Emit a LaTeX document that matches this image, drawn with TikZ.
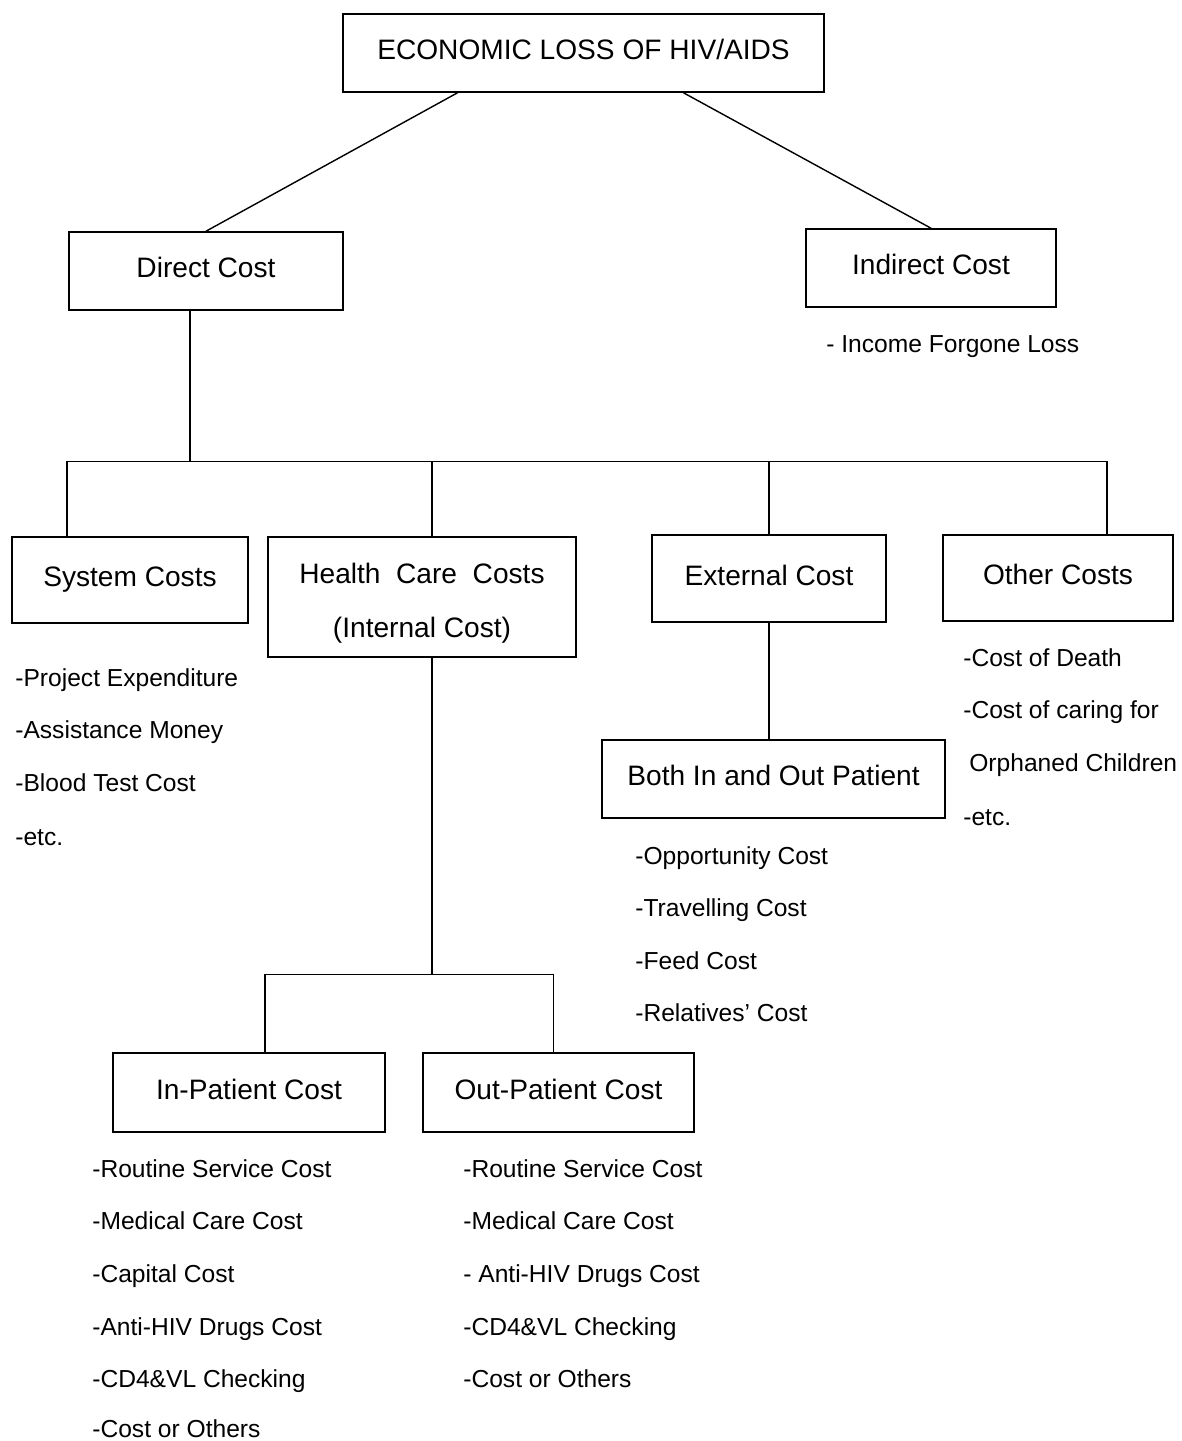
\documentclass[tikz,border=0pt]{standalone}
\usepackage{fontspec}
\setmainfont{Liberation Sans}
\usetikzlibrary{calc}
\tikzset{
  costbox/.style={draw, line width=0.9pt, rectangle, inner sep=0pt, text height=12pt, text depth=4.6pt, font=\fontsize{16pt}{19pt}\selectfont},
  itemtext/.style={anchor=base west, inner sep=0pt, font=\fontsize{14pt}{17pt}\selectfont},
  link/.style={line width=0.8pt},
}

\begin{document}
\begin{tikzpicture}[x=0.02cm, y=-0.02cm]%
\useasboundingbox (0,0) rectangle (1182,1441);%
% boxes
\node[costbox, minimum width=9.62cm, minimum height=1.56cm] (loss) at (583.5, 53) {ECONOMIC LOSS OF HIV/AIDS};%
\node[costbox, minimum width=5.48cm, minimum height=1.56cm] (direct) at (206, 271) {Direct Cost};%
\node[costbox, minimum width=5.0cm, minimum height=1.56cm] (indirect) at (931, 268) {Indirect Cost};%
\node[costbox, minimum width=4.72cm, minimum height=1.72cm] (system) at (130, 580) {System Costs};%
\node[costbox, minimum width=6.16cm, minimum height=2.4cm, align=center, text height=1.7cm, text depth=0.1cm, font=\fontsize{16pt}{30.7pt}\selectfont] (health) at (422, 597) {Health\ \ Care\ \ Costs\\(Internal Cost)};%
\node[costbox, minimum width=4.68cm, minimum height=1.74cm] (external) at (769, 578.5) {External Cost};%
\node[costbox, minimum width=4.6cm, minimum height=1.72cm] (other) at (1058, 578) {Other Costs};%
\node[costbox, minimum width=6.86cm, minimum height=1.56cm] (both) at (773.5, 779) {Both In and Out Patient};%
\node[costbox, minimum width=5.44cm, minimum height=1.58cm] (inpat) at (249, 1092.5) {In-Patient Cost};%
\node[costbox, minimum width=5.42cm, minimum height=1.58cm] (outpat) at (558.5, 1092.5) {Out-Patient Cost};%
% connectors
\draw[link] ($(loss.south)+(-126,0)$) -- (direct.north);%
\draw[link] ($(loss.south)+(100,0)$) -- (indirect.north);%
\coordinate (bus) at (190, 462);%
\draw[link] ($(direct.south)+(-16,0)$) -- (bus);%
\draw[link] ($(system.north)+(-63,0)$) -- ++(0,-75) -| ($(other.north)+(49,0)$);%
\coordinate (hdrop) at ($(health.north)+(10,0)$);%
\draw[link] (hdrop) -- (hdrop |- bus);%
\draw[link] (external.north) -- (external.north |- bus);%
\draw[link] (external.south) -- (external.south |- both.north);%
\coordinate (hbus) at (432, 975);%
\draw[link] (hdrop |- health.south) -- (hbus);%
\draw[link] ($(inpat.north)+(16,0)$) -- ++(0,-78) -| ($(outpat.north)+(-5,0)$);%
% indirect cost
\node[itemtext] (ind1) at (826, 352) {- Income Forgone Loss};%
% system costs
\node[itemtext] (sys1) at (15, 686) {-Project Expenditure};%
\node[itemtext] (sys2) at (15, 738) {-Assistance Money};%
\node[itemtext] (sys3) at (15, 791) {-Blood Test Cost};%
\node[itemtext] (sys4) at (15, 845) {-etc.};%
% other costs
\node[itemtext] (oth1) at (963, 666) {-Cost of Death};%
\node[itemtext] (oth2) at (963, 718) {-Cost of caring for};%
\node[itemtext] (oth3) at (969, 771) {Orphaned Children};%
\node[itemtext] (oth4) at (963, 825) {-etc.};%
% both in and out patient
\node[itemtext] (bot1) at (635, 864) {-Opportunity Cost};%
\node[itemtext] (bot2) at (635, 916) {-Travelling Cost};%
\node[itemtext] (bot3) at (635, 969) {-Feed Cost};%
\node[itemtext] (bot4) at (635, 1021) {-Relatives' Cost};%
% in-patient
\node[itemtext] (inp1) at (92, 1177) {-Routine Service Cost};%
\node[itemtext] (inp2) at (92, 1229) {-Medical Care Cost};%
\node[itemtext] (inp3) at (92, 1282) {-Capital Cost};%
\node[itemtext] (inp4) at (92, 1335) {-Anti-HIV Drugs Cost};%
\node[itemtext] (inp5) at (92, 1387) {-CD4\&VL Checking};%
\node[itemtext] (inp6) at (92, 1437) {-Cost or Others};%
% out-patient
\node[itemtext] (outp1) at (463, 1177) {-Routine Service Cost};%
\node[itemtext] (outp2) at (463, 1229) {-Medical Care Cost};%
\node[itemtext] (outp3) at (463, 1282) {- Anti-HIV Drugs Cost};%
\node[itemtext] (outp4) at (463, 1335) {-CD4\&VL Checking};%
\node[itemtext] (outp5) at (463, 1387) {-Cost or Others};%
\end{tikzpicture}
\end{document}
